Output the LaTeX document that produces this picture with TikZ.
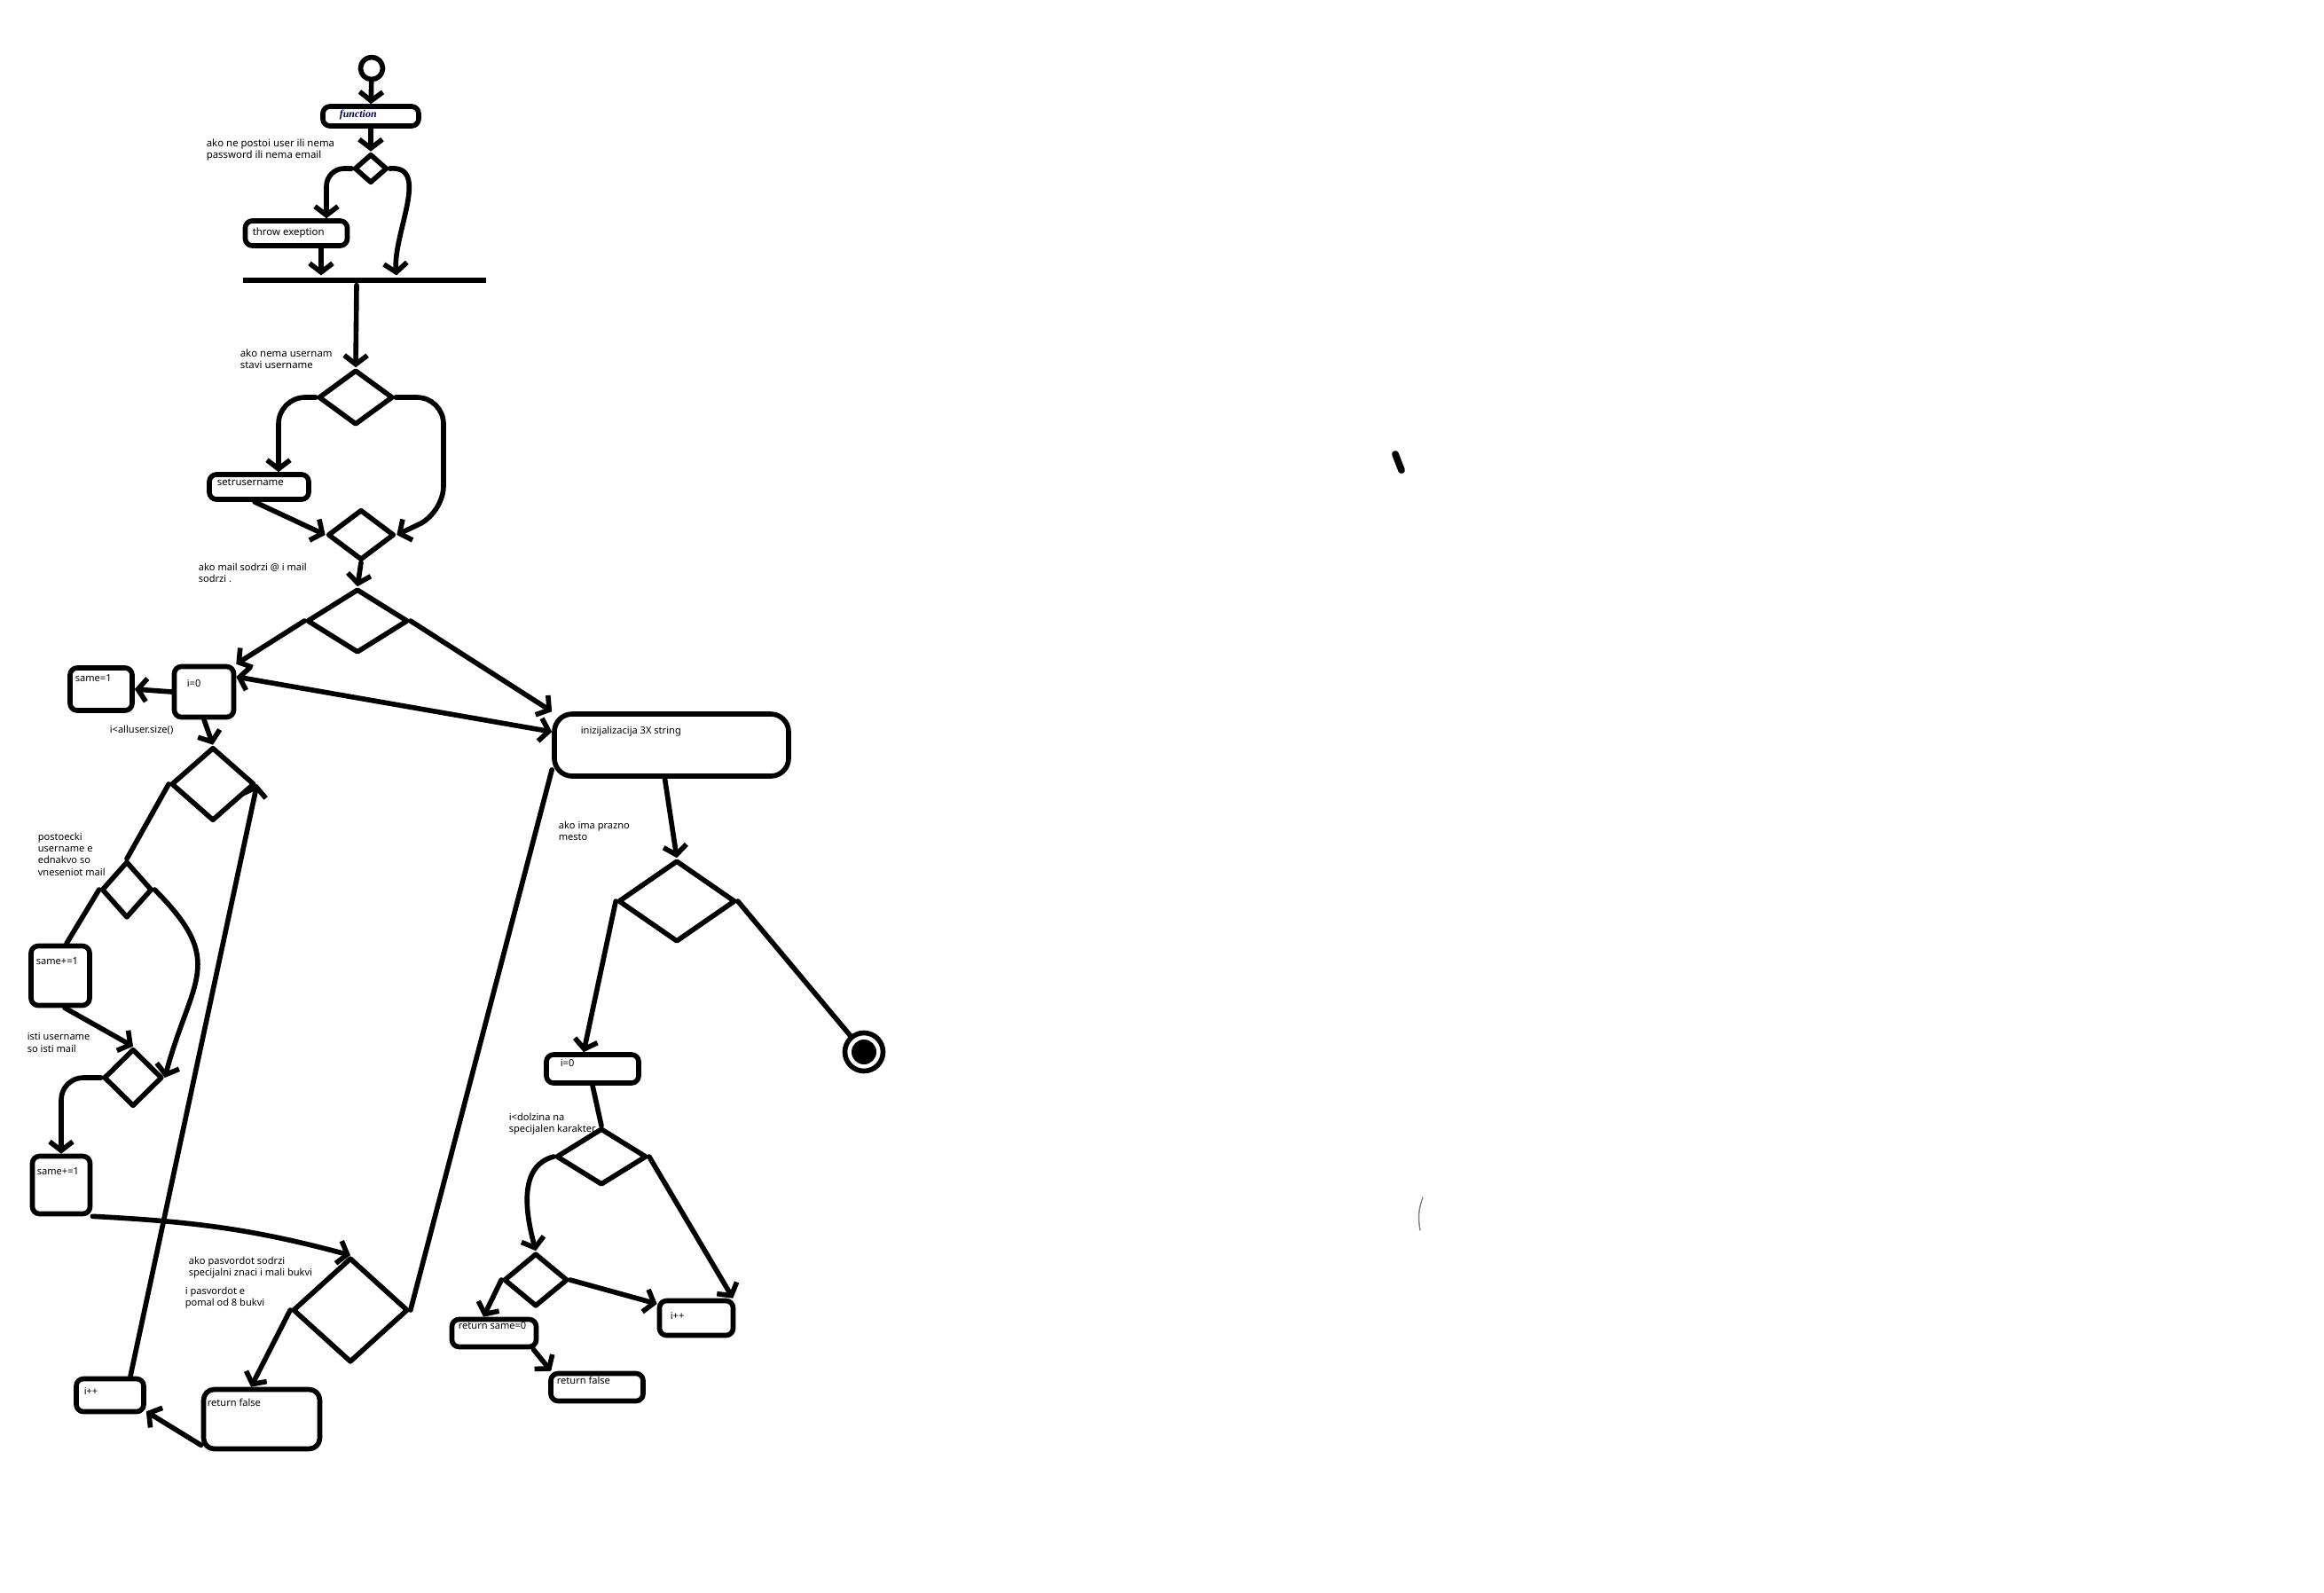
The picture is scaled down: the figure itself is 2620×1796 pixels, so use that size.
\documentclass[tikz,border=0pt]{standalone}
\usepackage{fontspec}
\setmainfont{Noto Sans}
\newfontfamily\serifit{Liberation Serif}
\usepackage{tikz}
\usetikzlibrary{arrows.meta,shapes.geometric}

\begin{document}
\begin{tikzpicture}[x=0.1mm,y=-0.1mm,line width=1.6pt,line cap=round,line join=round,
 font=\fontsize{3.15}{3.8}\selectfont,>={Straight Barb[length=1mm,width=2.6mm]},
 box/.style={draw,rounded corners=0.8mm,inner sep=0},
 dec/.style={draw,diamond,inner sep=0},
 txt/.style={inner sep=0,anchor=base west},
 txtb/.style={txt,font=\fontsize{3.25}{3.8}\selectfont\bfseries},
 par/.style={inner sep=0,anchor=north west,align=left}]
 \path[use as bounding box,fill=white] (0,0) rectangle (2620,1796);

 \node[circle,draw,minimum size=2.5mm,inner sep=0] (start) at (419,77) {};
 \node[box,minimum width=10.8mm,minimum height=2.2mm] (fn) at (418,131) {};
 \node[txt,font=\fontsize{3.4}{3.8}\serifit\bfseries\itshape,text=blue!35!black] (fn-t) at (380,132) {function};
 \node[par,font=\fontsize{3.25}{3.8}\selectfont\bfseries] (c1) at (230,154) {ako ne postoi user ili nema\\password ili nema email};
 \node[dec,minimum width=3.7mm,minimum height=3.3mm] (d1) at (418,190) {};
 \node[box,minimum width=11.5mm,minimum height=2.8mm] (throw) at (334,263) {};
 \node[txtb] (throw-t) at (282,265) {throw exeption};
 \node[fill,minimum width=27.4mm,minimum height=0.55mm,inner sep=0] (bar) at (411,316) {};

 \node[par,font=\fontsize{3.25}{3.8}\selectfont\bfseries] (c2) at (268,391) {ako nema usernam\\stavi username};
 \node[dec,minimum width=8.4mm,minimum height=6.2mm] (d2) at (401,448) {};
 \node[box,minimum width=11.2mm,minimum height=2.8mm] (setr) at (292,549) {};
 \node[txtb] (setr-t) at (242,547) {setrusername};
 \node[dec,minimum width=7.5mm,minimum height=5.7mm] (d3) at (407,603) {};
 \node[par] (c3) at (221,632) {ako mail sodrzi @ i mail\\sodrzi .};
 \node[dec,minimum width=11.4mm,minimum height=7.2mm] (d4) at (403,700) {};

 \node[box,minimum width=6.7mm,minimum height=5.7mm] (iz1) at (230,780) {};
 \node[txt] (iz1-t) at (208,774) {i=0};
 \node[box,minimum width=7mm,minimum height=4.8mm] (same1) at (114,777) {};
 \node[txt] (same1-t) at (82,768) {same=1};
 \node[txt] (c4) at (121,826) {i<alluser.size()};
 \node[box,rounded corners=2mm,minimum width=26.4mm,minimum height=7mm] (iniz) at (757,840) {};
 \node[txt] (iniz-t) at (652,827) {inizijalizacija 3X string};
 \node[par] (c5) at (627,923) {ako ima prazno\\mesto};

 \node[dec,minimum width=9.4mm,minimum height=8.3mm] (d5) at (240,884) {};
 \node[par] (c6) at (40,936) {postoecki\\username e\\ednakvo so\\vneseniot mail};
 \node[dec,minimum width=5.7mm,minimum height=6.4mm] (d6) at (143,1003) {};
 \node[box,minimum width=6.6mm,minimum height=6.7mm] (sa1) at (68,1100) {};
 \node[txt] (sa1-t) at (38,1087) {same+=1};
 \node[par] (c7) at (28,1162) {isti username\\so isti mail};
 \node[dec,minimum width=6.6mm,minimum height=6.5mm] (d7) at (150,1215) {};
 \node[box,minimum width=6.5mm,minimum height=6.5mm] (sa2) at (69,1336) {};
 \node[txt] (sa2-t) at (39,1324) {same+=1};

 \node[par] (c8) at (210,1414) {ako pasvordot sodrzi\\specijalni znaci i mali bukvi};
 \node[par] (c9) at (206,1448) {i pasvordot e\\pomal od 8 bukvi};
 \node[dec,minimum width=13mm,minimum height=11.8mm] (d8) at (395,1477) {};
 \node[box,rounded corners=1.2mm,minimum width=13.1mm,minimum height=6.7mm] (rf1) at (295,1600) {};
 \node[txt] (rf1-t) at (231,1585) {return false};
 \node[box,minimum width=7.6mm,minimum height=3.7mm] (ip1) at (124,1573) {};
 \node[txt] (ip1-t) at (92,1572) {i++};

 \node[dec,minimum width=13.2mm,minimum height=9.2mm] (d9) at (763,1016) {};
 \node[circle,draw,minimum size=4.3mm,inner sep=0,
 path picture={\fill (path picture bounding box.center) circle (1.4mm);}] (fin) at (974,1186) {};
 \node[box,minimum width=10.4mm,minimum height=3.2mm] (iz2) at (668,1205) {};
 \node[txt] (iz2-t) at (629,1202) {i=0};
 \node[par] (c10) at (571,1252) {i<dolzina na\\specijalen karakter};
 \node[dec,minimum width=10.2mm,minimum height=6.4mm] (d10) at (678,1304) {};
 \node[dec,minimum width=7.2mm,minimum height=6mm] (d11) at (604,1443) {};
 \node[box,minimum width=8.3mm,minimum height=3.9mm] (ip2) at (785,1486) {};
 \node[txt] (ip2-t) at (753,1487) {i++};
 \node[box,minimum width=9.5mm,minimum height=3.1mm] (rs0) at (557,1503) {};
 \node[txt] (rs0-t) at (514,1498) {return same=0};
 \node[box,minimum width=10.4mm,minimum height=3.1mm] (rf2) at (673,1564) {};
 \node[txt] (rf2-t) at (625,1560) {return false};

 \draw[->] (start) -- (fn);
 \draw[->] (fn) -- (d1);
 \draw[->,rounded corners=2mm] (d1.west) -| ([xshift=3.4mm]throw.north);
 \draw[->] ([xshift=2.8mm]throw.south) -- ([xshift=2.8mm]throw.south |- bar.north);
 \draw[->] (d1.east) to[out=5,in=95] ([xshift=3.6mm]bar.north);
 \draw[->] ([xshift=-0.9mm]bar.south) -- (d2.north);
 \draw[->,rounded corners=3mm] (d2.west) -| ([xshift=2.2mm]setr.north);
 \coordinate (d2r) at (500,578);
 \draw[->,rounded corners=3mm] (d2.east) -| (d2r) -- (d3.east);
 \draw[->] ([xshift=-0.5mm]setr.south) -- (d3.west);
 \draw[->] (d3.south) -- (d4.north);
 \draw[->] (d4.west) -- (iz1.north east);
 \draw[->] (d4.east) -- (iniz.north west);
 \draw[<->] ([yshift=1.7mm]iz1.east) -- ([yshift=1.5mm]iniz.west);
 \draw[->] (iz1.west) -- (same1.east);
 \draw[->] (iz1.south) -- (d5.north);
 \draw (d5.west) -- (d6.north);
 \draw (d6.west) -- ([xshift=0.7mm]sa1.north);
 \draw[->] (d6.east) to[out=-45,in=75,looseness=1.4] (d7.east);
 \draw[->] ([xshift=0.5mm]sa1.south) -- (d7.north);
 \draw[->,rounded corners=2.5mm] (d7.west) -| (sa2.north);
 \draw[->] (sa2.south east) to[out=-3,in=165] (d8.north);
 \draw ([yshift=1mm]iniz.south west) -- (d8.east);
 \draw[->] (d8.west) -- ([xshift=-1.2mm]rf1.north);
 \draw[->] ([yshift=0.7mm]rf1.south west) -- ([yshift=0.3mm]ip1.south east);
 \draw[->] ([xshift=2.3mm]ip1.north) -- (d5.east);
 \draw[->] ([xshift=-0.75mm]iniz.south) -- (d9.north);
 \draw[->] (d9.west) -- ([xshift=-1mm]iz2.north);
 \draw (d9.east) -- (fin);
 \draw (iz2.south) -- (d10.north);
 \draw[->] (d10.west) to[out=195,in=105] (d11.north);
 \draw[->] (d10.east) -- ([xshift=-0.3mm]ip2.north east);
 \draw[->] (d11.east) -- ([yshift=1.6mm]ip2.west);
 \draw[->] (d11.west) -- ([xshift=-1.2mm]rs0.north);
 \draw[->] ([xshift=-0.6mm]rs0.south east) -- ([xshift=0.3mm]rf2.north west);

 \draw[line width=2.2pt] (1573,512) -- (1580,530);
 \draw[gray,line width=0.4pt] (1604,1350) to[out=250,in=100] (1601,1387);
\end{tikzpicture}
\end{document}
